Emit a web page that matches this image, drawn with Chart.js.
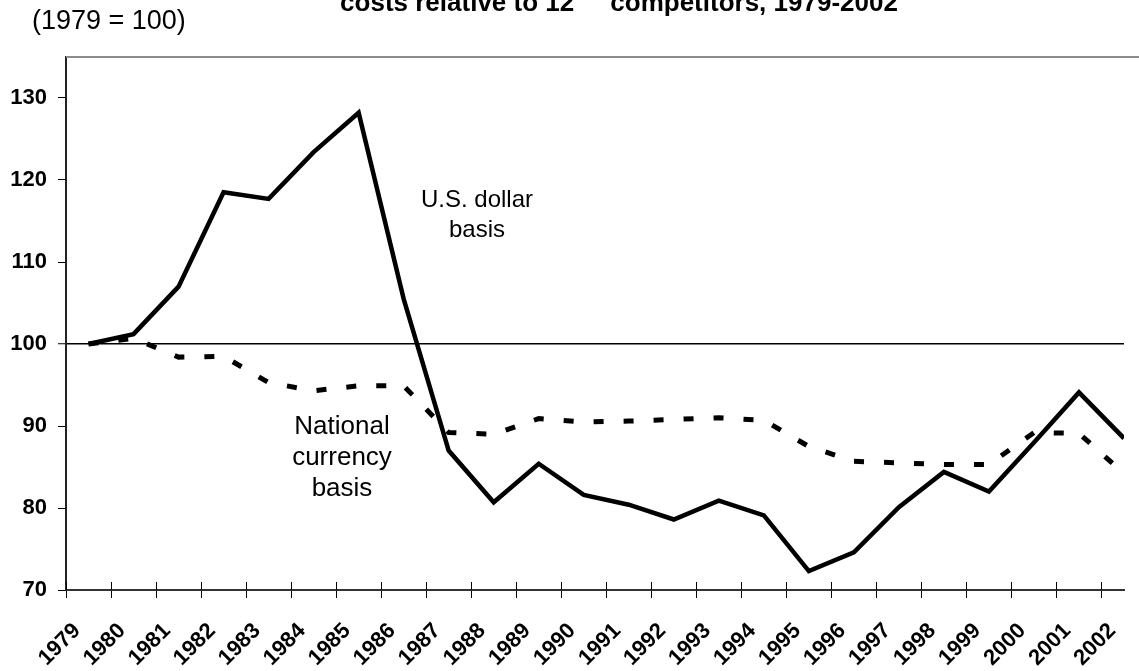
<!DOCTYPE html>
<html>
<head>
<meta charset="utf-8">
<script src="https://cdn.jsdelivr.net/npm/chart.js@4"></script>
<style>
    html, body { margin: 0; padding: 0; background: #fff; }
    #wrap { width: 1139px; height: 671px; position: relative; }
</style>
</head>
<body>
<div id="wrap"><canvas id="laborChart"></canvas></div>
<script>
const years = [1979, 1980, 1981, 1982, 1983, 1984, 1985, 1986, 1987, 1988, 1989, 1990,
    1991, 1992, 1993, 1994, 1995, 1996, 1997, 1998, 1999, 2000, 2001, 2002];
const usDollarBasis = [100, 101.2, 107.0, 118.5, 117.7, 123.4, 128.2, 105.5, 87.0, 80.7, 85.4, 81.6,
    80.4, 78.6, 80.9, 79.1, 72.3, 74.6, 80.1, 84.4, 82.0, 88.0, 94.1, 88.5];
const nationalCurrencyBasis = [100, 100.7, 98.4, 98.5, 95.3, 94.3, 94.9, 94.9, 89.2, 89.0, 90.9, 90.5,
    90.6, 90.8, 91.0, 90.7, 87.5, 85.7, 85.5, 85.3, 85.3, 89.2, 89.1, 84.2];
const yTicks = [70, 80, 90, 100, 110, 120, 130];
const titleText = "costs relative to 12     competitors, 1979-2002";
const unitText = "(1979 = 100)";
const usLabel = ["U.S. dollar", "basis"];
const nationalLabel = ["National", "currency", "basis"];

const toPoints = (vals) => vals.map((v, i) => ({ x: years[i], y: v }));

// text + frame bits that the chart itself doesn't do
const decorations = {
    id: "decorations",
    afterDraw(chart) {
        const { ctx, chartArea, scales } = chart;
        ctx.save();

        // grey top frame line
        ctx.strokeStyle = "#8c8c8c";
        ctx.lineWidth = 2;
        ctx.beginPath();
        ctx.moveTo(chartArea.left, chartArea.top);
        ctx.lineTo(chart.width, chartArea.top);
        ctx.stroke();

        // inner half of the x tick marks
        ctx.strokeStyle = "#000";
        ctx.lineWidth = 1;
        scales.x.ticks.forEach((t) => {
            const px = Math.round(scales.x.getPixelForValue(t.value)) + 0.5;
            ctx.beginPath();
            ctx.moveTo(px, chartArea.bottom - 8);
            ctx.lineTo(px, chartArea.bottom);
            ctx.stroke();
        });

        ctx.fillStyle = "#000";
        ctx.textAlign = "center";
        ctx.textBaseline = "alphabetic";
        ctx.font = "bold 26px Arial, 'Liberation Sans', sans-serif";
        ctx.fillText(titleText, 619, 11);

        ctx.textAlign = "left";
        ctx.textBaseline = "middle";
        ctx.font = "27px Arial, 'Liberation Sans', sans-serif";
        ctx.fillText(unitText, 32, 22);

        ctx.textAlign = "center";
        ctx.textBaseline = "alphabetic";
        ctx.font = "24px Arial, 'Liberation Sans', sans-serif";
        usLabel.forEach((line, i) => ctx.fillText(line, 477, 207 + i * 30));

        ctx.font = "26px Arial, 'Liberation Sans', sans-serif";
        nationalLabel.forEach((line, i) => ctx.fillText(line, 342, 434 + i * 31));

        ctx.restore();
    },
};

new Chart(document.getElementById("laborChart"), {
    type: "line",
    data: {
        datasets: [
            {
                label: "U.S. dollar basis",
                data: toPoints(usDollarBasis),
                borderColor: "#000",
                borderWidth: 4.5,
                pointRadius: 0,
                tension: 0,
                fill: false,
            },
            {
                label: "National currency basis",
                data: toPoints(nationalCurrencyBasis),
                borderColor: "#000",
                borderWidth: 5,
                borderDash: [10, 20],
                borderCapStyle: "butt",
                pointRadius: 0,
                tension: 0,
                fill: false,
            },
        ],
    },
    options: {
        responsive: true,
        maintainAspectRatio: false,
        animation: false,
        layout: {
            padding: { top: 57, right: 15, left: 0, bottom: 0 },
        },
        plugins: {
            legend: { display: false },
            tooltip: { enabled: false },
        },
        scales: {
            x: {
                type: "linear",
                min: 1978.5,
                max: 2002,
                afterBuildTicks: (scale) => {
                    scale.ticks = years.map((y) => ({ value: y - 0.5 }));
                },
                afterFit: (scale) => {
                    scale.height = 81;
                    scale.paddingLeft = 0;
                    scale.paddingRight = 0;
                },
                border: { display: true, color: "#333", width: 2 },
                grid: {
                    drawOnChartArea: false,
                    drawTicks: true,
                    tickLength: 8,
                    color: "#000",
                    lineWidth: 1,
                },
                ticks: {
                    autoSkip: false,
                    minRotation: 45,
                    maxRotation: 45,
                    labelOffset: 11,
                    padding: 20,
                    color: "#000",
                    font: { family: "Arial, 'Liberation Sans', sans-serif", size: 22, weight: "bold" },
                    callback: (v) => String(v + 0.5),
                },
            },
            y: {
                min: 70,
                max: 135,
                afterBuildTicks: (scale) => {
                    scale.ticks = yTicks.map((v) => ({ value: v }));
                },
                afterFit: (scale) => {
                    scale.width = 66;
                },
                border: { display: true, color: "#222", width: 2 },
                grid: {
                    drawTicks: true,
                    tickLength: 8,
                    tickColor: "#000",
                    tickWidth: 1,
                    color: (c) => (c.tick && c.tick.value === 100 ? "#000" : "rgba(0,0,0,0)"),
                    lineWidth: (c) => (c.tick && c.tick.value === 100 ? 1.5 : 1),
                },
                ticks: {
                    padding: 11,
                    color: "#000",
                    font: { family: "Arial, 'Liberation Sans', sans-serif", size: 22, weight: "bold" },
                },
            },
        },
    },
    plugins: [decorations],
});
</script>
</body>
</html>
